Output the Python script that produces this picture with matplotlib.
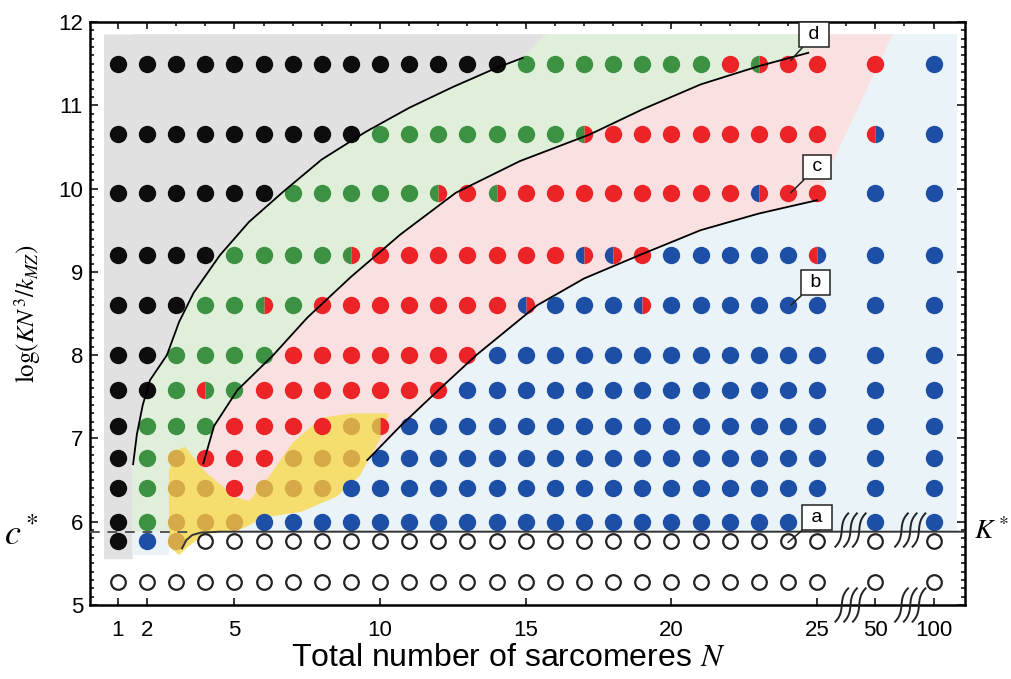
import numpy as np
import matplotlib
matplotlib.use("Agg")
import matplotlib.pyplot as plt

plt.rcParams['font.family'] = ['Liberation Sans', 'DejaVu Sans']
plt.rcParams['mathtext.fontset'] = 'stix'

# columns: N values and where they sit on the (broken) x axis
N_labels = [str(n) for n in range(1, 26)] + ['50', '100']
N_pos = list(range(1, 26)) + [27, 29]
tick_pos = [1, 2, 5, 10, 15, 20, 25, 27, 29]
tick_lab = ['1', '2', '5', '10', '15', '20', '25', '50', '100']

# rows of log(KN^3/k_MZ)
row_y = [11.5, 10.65, 9.95, 9.2, 8.6, 8.0, 7.58, 7.15, 6.76, 6.41, 6.0, 5.77, 5.28]

# outcome of each simulation (k black, g green, r red, b blue, y yellow, o none; two letters = mixed)
dot_rows = [
    "k " * 14 + "g " * 7 + "r gr r r r b",
    "k " * 9 + "g " * 7 + "gr " + "r " * 8 + "rb b",
    "k " * 6 + "g " * 5 + "gr r gr " + "r " * 8 + "br r r b b",
    "k k k k g g g g gr " + "r " * 7 + "br br r b b b b b rb b b",
    "k k k g g gr g r r r r r r r br b b b br " + "b " * 8,
    "k k g g g g " + "r " * 7 + "b " * 14,
    "k k g rg g " + "r " * 7 + "b " * 15,
    "k g g g r r r r y yr " + "b " * 17,
    "k g y r r r y y y " + "b " * 18,
    "k g y y r y y y " + "b " * 19,
    "k g y y y " + "b " * 22,
    "k b y " + "o " * 24,
    "o " * 27,
]

# phase boundary curves (N, y)
c1_N = [1.52, 1.65, 1.85, 2.1, 2.68, 3.1, 3.6, 4.5, 5.5, 6.7, 8.0, 9.5, 11.0, 12.5, 14.0, 14.9]
c1_y = [6.69, 7.05, 7.4, 7.7, 8.0, 8.4, 8.75, 9.2, 9.6, 9.97, 10.35, 10.68, 10.97, 11.22, 11.45, 11.57]
c2_N = [3.93, 4.3, 5.1, 6.33, 7.5, 9.0, 10.7, 12.6, 14.8, 17.2, 19.0, 21.0, 23.0, 24.7]
c2_y = [6.7, 7.15, 7.58, 8.0, 8.45, 8.94, 9.45, 9.95, 10.33, 10.65, 10.95, 11.25, 11.47, 11.63]
c3_N = [9.56, 10.7, 12.0, 13.3, 15.4, 17.0, 18.9, 21.0, 23.0, 25.0]
c3_y = [6.74, 7.15, 7.58, 8.0, 8.6, 8.92, 9.2, 9.5, 9.7, 9.86]
ca_N = [3.2, 3.35, 3.55, 3.85, 4.5]
ca_y = [5.68, 5.78, 5.84, 5.87, 5.88]
c_star = 5.88

# shaded regions (outline points besides the curves)
gray_N = [15.7, 0.52, 0.52, 1.5, 1.5]
gray_y = [11.85, 11.85, 5.55, 5.55, 6.69]
green_N = [24.6, 1.5, 1.5, 2.75, 2.75]
green_y = [11.85, 11.85, 5.88, 5.88, 6.6]
pink_N = [25.5, 27.6, 3.0, 3.0, 5.5, 8.5]
pink_y = [10.3, 11.85, 11.85, 6.3, 6.2, 6.3]
blue_N = [1.5, 2.75, 2.75, 29.8, 29.8, 1.5]
blue_y = [5.6, 5.6, 5.88, 5.88, 11.85, 11.85]
yel_N = [2.75, 2.75, 2.95, 3.3, 4.0, 5.0, 5.5, 6.2, 7.0, 8.0, 9.0, 10.3, 10.0, 9.3, 8.5, 7.3, 6.0, 5.3, 4.0, 3.4, 3.1]
yel_y = [5.7, 6.6, 6.85, 6.9, 6.6, 6.3, 6.25, 6.55, 6.95, 7.25, 7.3, 7.3, 7.0, 6.55, 6.3, 6.12, 6.05, 5.92, 5.85, 5.7, 5.6]

# callout labels: text, dot pointed at, box position
callouts = [('d', 24.1, 11.54, 24.9, 11.85),
            ('c', 24.1, 9.95, 25.0, 10.26),
            ('b', 24.1, 8.6, 24.95, 8.87),
            ('a', 24.0, 5.75, 25.0, 6.05)]

colors = {'k': '#0d0d0d', 'g': '#3d9142', 'r': '#ec2428', 'b': '#1e4fa6', 'y': '#d6aa48'}

fig = plt.figure(figsize=(10.12, 6.79), dpi=100)
ax = fig.add_axes([90 / 1012, 74 / 679, 875 / 1012, 583 / 679])
ax.set_xlim(0.04, 30.08)
ax.set_ylim(5, 12)

# background regions
ax.fill(blue_N, blue_y, color='#e9f3f8', lw=0, zorder=0)
ax.fill(c3_N + pink_N, c3_y + pink_y, color='#fbe0e1', lw=0, zorder=0.2)
ax.fill(c2_N + green_N, c2_y + green_y, color='#dfefda', lw=0, zorder=0.4)
ax.fill(c1_N + gray_N, c1_y + gray_y, color='#e1e1e1', lw=0, zorder=0.6)
ax.fill(yel_N, yel_y, color='#f6de6e', lw=0, zorder=0.8)

# dots
for yv, row in zip(row_y, dot_rows):
    for xp, code in zip(N_pos, row.split()):
        if code == 'o':
            ax.plot(xp, yv, 'o', ms=10.5, mfc='white', mec='#222222', mew=1.6, zorder=4)
        elif len(code) == 2:
            ax.plot(xp, yv, 'o', ms=12.5, fillstyle='left', mfc=colors[code[0]],
                    markerfacecoloralt=colors[code[1]], mec='none', zorder=4)
        else:
            ax.plot(xp, yv, 'o', ms=12.5, color=colors[code], mec='none', zorder=4)

# boundary curves
for cx, cy in [(c1_N, c1_y), (c2_N, c2_y), (c3_N, c3_y)]:
    ax.plot(cx, cy, color='black', lw=1.3, zorder=5)
x_right = ax.get_xlim()[1]
ax.plot(ca_N + [x_right], ca_y + [c_star], color='#333333', lw=1.4, zorder=5)
ax.plot([ax.get_xlim()[0], ca_N[0] + 0.3], [c_star, c_star], color='#555555', lw=1.4,
        ls=(0, (5, 4)), zorder=5)

# callout labels
for lab, xd, yd, xb, yb in callouts:
    ax.annotate(' ' + lab + ' ', xy=(xd, yd), xytext=(xb, yb), ha='center', va='center', fontsize=14,
                bbox=dict(boxstyle='square,pad=0.2', fc='white', ec='#222222', lw=1.1),
                arrowprops=dict(arrowstyle='-', lw=1.1, color='#222222', shrinkA=0, shrinkB=0),
                zorder=6, annotation_clip=False)

# axis break squiggles
s = np.linspace(-1, 1, 50)
for xc in [26.15, 28.2]:
    for yc in [5.0, c_star + 0.02]:
        for k in (-1, 0, 1):
            ax.plot(xc + k * 0.3 + 0.05 * s + 0.17 * s ** 3,
                    yc + 0.2 * s, color='#222222', lw=1.4, zorder=6, clip_on=False)

ax.text(-2.3, c_star - 0.05, r'$c^*$', fontsize=26, ha='center', va='center')
ax.text(30.38, c_star, r'$K^*$', fontsize=20, ha='left', va='center')

# ticks and labels
ax.set_xticks(tick_pos)
ax.set_xticklabels(tick_lab)
ax.set_xticks(range(1, 30), minor=True)
ax.set_yticks(range(5, 13))
ax.set_yticks(np.arange(5, 12.01, 0.1), minor=True)
ax.tick_params(which='both', direction='in', top=True, right=True, labelsize=16, width=1.1)
ax.tick_params(axis='x', which='major', pad=11, length=5)
ax.tick_params(axis='x', which='minor', bottom=False, length=3)
ax.tick_params(axis='y', which='major', length=6, pad=5)
ax.tick_params(axis='y', which='minor', length=3)
for sp in ax.spines.values():
    sp.set_linewidth(1.8)

ax.set_xlabel(r'Total number of sarcomeres $N$', fontsize=23)
ax.xaxis.set_label_coords(0.478, -0.066)
ax.set_ylabel(r'$\log(KN^3/k_{MZ})$', fontsize=18)
ax.yaxis.set_label_coords(-0.054, 0.5)

fig.savefig('out.png', dpi=100)
